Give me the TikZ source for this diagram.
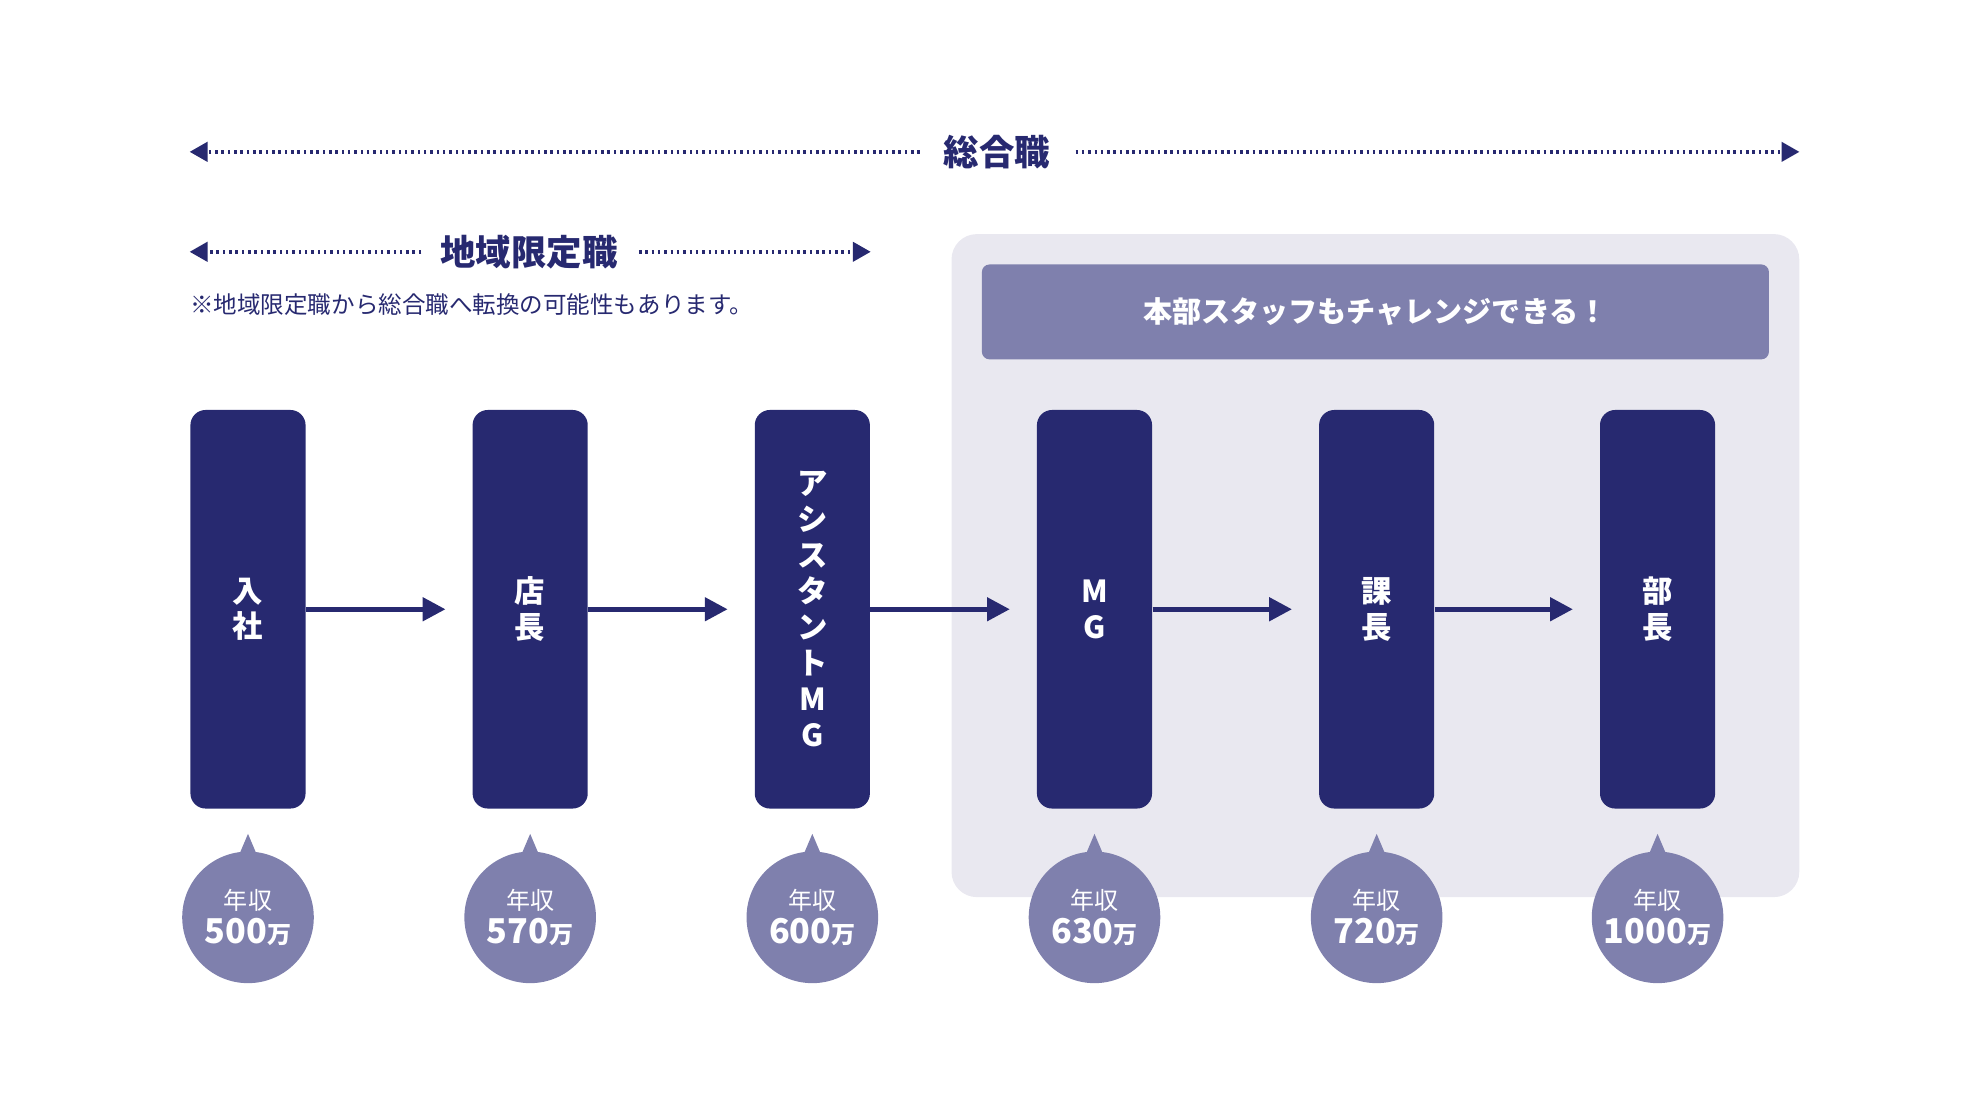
\documentclass[tikz,border=0pt]{standalone}
\usepackage{fontspec}
\setmainfont{Noto Sans CJK JP}
\usetikzlibrary{arrows.meta}
\definecolor{navy}{HTML}{272970}
\definecolor{lav}{HTML}{7F80AD}
\definecolor{panel}{HTML}{E9E8F0}
\tikzset{
  dotline/.style={navy,line width=1.5pt,dash pattern=on 1pt off 1.5pt,-{Triangle[length=7pt,width=8pt,line width=0pt]}},
  stage/.style={fill=navy,rounded corners=6pt,minimum width=45.5pt,minimum height=157.5pt,inner sep=0pt,text=white,font=\bfseries\fontsize{12}{14.2}\selectfont,align=center},
  flow/.style={navy,line width=2pt,-{Triangle[length=9pt,width=9pt]}},
  bub/.style={fill=lav,circle,minimum size=52pt,inner sep=0pt,text=white,align=center},
}
\newcommand{\salary}[3]{%
  \fill[lav] (#1-14,692) -- (#1,659) -- (#1+14,692) -- cycle;
  \node[bub] (#3) at (#1,725) {\fontsize{9.5}{11}\selectfont 年収\\[1.5pt]{\bfseries\fontsize{13.5}{14}\selectfont #2\fontsize{9.5}{11}\selectfont 万}};
}
\begin{document}
\begin{tikzpicture}[x=0.5pt,y=-0.5pt]
\useasboundingbox (0,0) rectangle (1568,885);
% top arrows
\node[font=\bfseries\fontsize{14}{16}\selectfont,text=navy] (sg) at (788,120) {総合職};
\coordinate (sgl) at (150,120); \coordinate (sgr) at (1422,120);
\draw[dotline] (727,120) -- (sgl);
\draw[dotline] (850,120) -- (sgr);
\node[font=\bfseries\fontsize{14}{16}\selectfont,text=navy] (cg) at (418,199) {地域限定職};
\coordinate (cgl) at (150,199); \coordinate (cgr) at (688,199);
\draw[dotline] (333,199) -- (cgl);
\draw[dotline] (505,199) -- (cgr);
\node[anchor=west,font=\fontsize{9.3}{10}\selectfont,text=navy,inner sep=0pt] (note) at (150,241) {※地域限定職から総合職へ転換の可能性もあります。};
% panel
\fill[panel,rounded corners=10pt] (752,185) rectangle (1422,709);
\node[fill=lav,rounded corners=3pt,minimum width=311pt,minimum height=37.5pt,text=white,font=\bfseries\fontsize{11.5}{13}\selectfont] (banner) at (1087,246.5) {本部スタッフもチャレンジできる！};
% stages
\node[stage] (s1) at (196,481.5) {入\\社};
\node[stage] (s2) at (419,481.5) {店\\長};
\node[stage] (s3) at (642,481.5) {ア\\シ\\ス\\タ\\ン\\ト\\M\\G};
\node[stage] (s4) at (865,481.5) {M\\G};
\node[stage] (s5) at (1088,481.5) {課\\長};
\node[stage] (s6) at (1310,481.5) {部\\長};
\foreach \a/\b in {s1/s2,s2/s3,s3/s4,s4/s5,s5/s6}
  \draw[flow] (\a.east) -- ([xshift=-10.5pt]\b.west);
% salaries
\salary{196}{500}{b1}
\salary{419}{570}{b2}
\salary{642}{600}{b3}
\salary{865}{630}{b4}
\salary{1088}{720}{b5}
\salary{1310}{1000}{b6}
\end{tikzpicture}
\end{document}
